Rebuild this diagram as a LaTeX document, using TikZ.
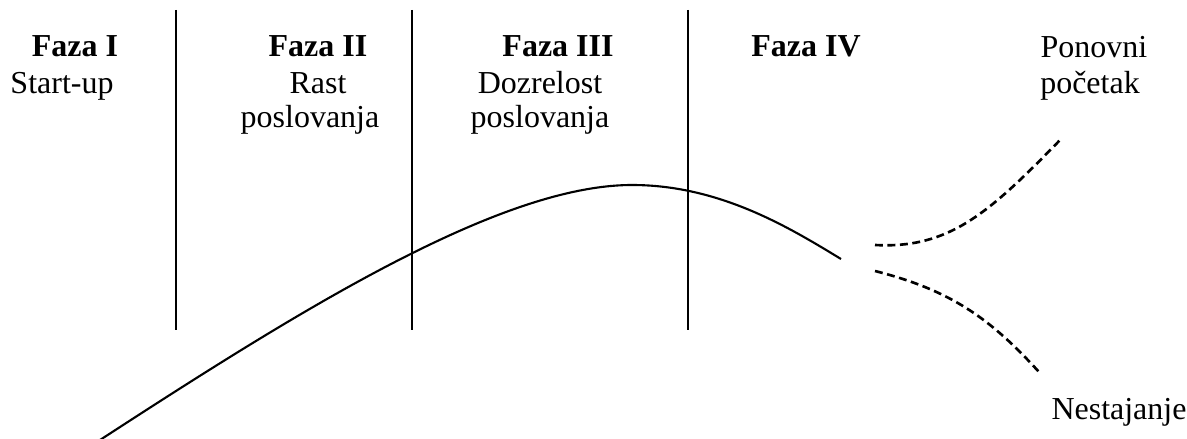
\documentclass[tikz,border=0pt]{standalone}
\usepackage{fontspec}
\setmainfont{Liberation Serif}
\begin{document}
\begin{tikzpicture}[x=0.02cm,y=-0.02cm,
  lbl/.style={inner sep=0pt,anchor=base,font=\fontsize{18.2}{20}\selectfont},
  hd/.style={lbl,font=\fontsize{18.2}{20}\selectfont\bfseries},
  sep/.style={line width=1.2pt},
  curve/.style={line width=1.2pt},
  dashcurve/.style={line width=1.5pt,dash pattern=on 4.5pt off 2.6pt}]
\useasboundingbox (0,0) rectangle (1187,439);
% separators
\coordinate (s1t) at (176,10); \coordinate (s1b) at (176,330);
\coordinate (s2t) at (412,10); \coordinate (s2b) at (412,330);
\coordinate (s3t) at (688,10); \coordinate (s3b) at (688,330);
\draw[sep] (s1t) -- (s1b);
\draw[sep] (s2t) -- (s2b);
\draw[sep] (s3t) -- (s3b);
% headings
\node[hd] (f1) at (75,57) {Faza I};
\node[lbl] (t1) at (62,94) {Start-up};
\node[hd] (f2) at (318,57) {Faza II};
\node[lbl] (t2) at (318,94) {Rast};
\node[lbl] (t2b) at (310,128) {poslovanja};
\node[hd] (f3) at (558,57) {Faza III};
\node[lbl] (t3) at (540,94) {Dozrelost};
\node[lbl] (t3b) at (540,128) {poslovanja};
\node[hd] (f4) at (806,57) {Faza IV};
\node[lbl] (p1) at (1094,58) {Ponovni};
\node[lbl] (p2) at (1090,94) {početak};
\node[lbl] (n1) at (1119,419) {Nestajanje};
% life curve
\coordinate (c0) at (100,440);
\coordinate (cpk) at (632,185);
\coordinate (cend) at (841,259);
\draw[curve] (c0) .. controls (300,310) and (500,185) .. (cpk)
  .. controls (720,185) and (790,228) .. (cend);
% branches
\coordinate (u0) at (875,245); \coordinate (u1) at (1062,138);
\coordinate (l0) at (875,271); \coordinate (l1) at (1039,372);
\draw[dashcurve] (u0) .. controls (950,249) and (990,212) .. (u1);
\draw[dashcurve] (l0) .. controls (950,290) and (990,318) .. (l1);
\end{tikzpicture}
\end{document}
